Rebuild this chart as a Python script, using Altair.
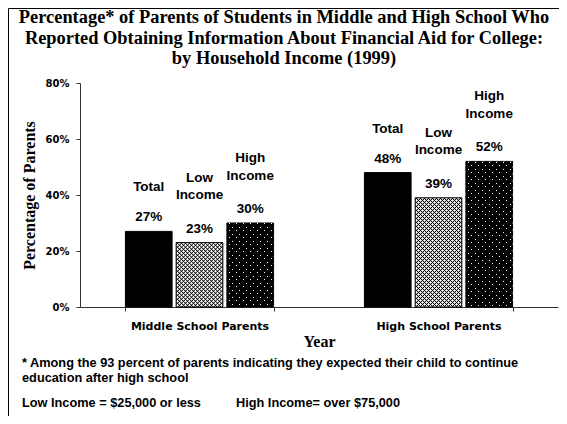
import altair as alt
import pandas as pd

# ---------------- data ----------------
groups = ["Middle School Parents", "High School Parents"]
series = ["Total", "Low Income", "High Income"]
series_labels = ["Total", "Low\nIncome", "High\nIncome"]
middle_school_values = [27, 23, 30]
high_school_values = [48, 39, 52]
y_ticks = [0, 20, 40, 60, 80]

title_lines = [
    "Percentage* of Parents of Students in Middle and High School Who",
    "Reported Obtaining Information About Financial Aid for College:",
    "by Household Income (1999)",
]
x_title = "Year"
y_title = "Percentage of Parents"
footnote_1 = ["* Among the 93 percent of parents indicating they expected their child to continue",
              "education after high school"]
footnote_low = "Low Income = $25,000 or less"
footnote_high = "High Income= over $75,000"

rows = []
for g, vals in zip(groups, [middle_school_values, high_school_values]):
    for s, lab, v in zip(series, series_labels, vals):
        rows.append({"group": g, "series": s, "label": lab, "value": v, "pct": f"{v}%"})
df = pd.DataFrame(rows)
one = pd.DataFrame({"k": [0]})

# ---------------- layout ----------------
W, H = 478, 224
PAD = {"left": 72, "top": 75, "right": 1, "bottom": 109}
Y_MAX = 80
P_IN, P_OUT = 0.38, 0.19
P_OFF = 0.08
SANS = "Liberation Sans"
SERIF = "Liberation Serif"

# bar pixel size (used only to style the fill patterns)
step = W / (len(groups) - P_IN + 2 * P_OUT)
band = step * (1 - P_IN)
bar_w = band / (len(series) - P_OFF) * (1 - P_OFF)

x_enc = alt.X(
    "group:N", title=x_title,
    scale=alt.Scale(domain=groups, paddingInner=P_IN, paddingOuter=P_OUT),
    axis=alt.Axis(labelAngle=0, labelFont="DejaVu Sans", labelFontSize=11, labelFontWeight="bold",
                  labelColor="black", tickBand="extent", tickSize=4, tickColor="#333",
                  domainColor="#333", labelPadding=9, titleFont=SERIF, titleFontSize=16,
                  titleFontWeight="bold", titleColor="black", titlePadding=2, grid=False),
)
xo_enc = alt.XOffset("series:N", scale=alt.Scale(domain=series, paddingInner=P_OFF, paddingOuter=0))
y_enc = alt.Y(
    "value:Q", title=y_title,
    scale=alt.Scale(domain=[0, Y_MAX], nice=False),
    axis=alt.Axis(values=y_ticks, labelExpr="datum.value + '%'", labelFont="DejaVu Sans",
                  labelFontSize=10, labelFontWeight="bold", labelColor="black", tickSize=4,
                  tickColor="#333", domainColor="#333", labelPadding=7, titleFont=SERIF,
                  titleFontSize=16, titleFontWeight="bold", titleColor="black", titlePadding=8,
                  grid=False),
)

base = alt.Chart(df)

bars = base.mark_bar(stroke="black", strokeWidth=1).encode(
    x=x_enc, xOffset=xo_enc, y=y_enc,
    fill=alt.Fill("series:N", scale=alt.Scale(domain=series, range=["#000000", "#ffffff", "#000000"]),
                  legend=None),
)

CLEAR = "rgba(0,0,0,0)"


def stripes(w, h, direction, period, thick, color, inverse=False, soft=False, start=2.0):
    """45-degree stripe fill for a bar of w x h pixels."""
    L = w + h
    k = (w + h) / (w * w + h * h)
    a, b = k * w, k * h
    if direction == 1:
        x1, y1, x2, y2 = 0, 0, a, b
    else:
        x1, y1, x2, y2 = 1, 0, 1 - a, b
    bg, fg = (color, CLEAR) if inverse else (CLEAR, color)
    stops = [alt.GradientStop(offset=0, color=bg)]
    c = start
    while c + thick / 2 < L:
        lo, mid, hi = (c - thick / 2) / L, c / L, (c + thick / 2) / L
        if soft:
            stops += [alt.GradientStop(offset=lo, color=bg), alt.GradientStop(offset=mid, color=fg),
                      alt.GradientStop(offset=hi, color=bg)]
        else:
            stops += [alt.GradientStop(offset=lo, color=bg), alt.GradientStop(offset=lo, color=fg),
                      alt.GradientStop(offset=hi, color=fg), alt.GradientStop(offset=hi, color=bg)]
        c += period
    stops.append(alt.GradientStop(offset=1, color=bg))
    return alt.LinearGradient(gradient="linear", stops=stops, x1=x1, y1=y1, x2=x2, y2=y2)


pattern_layers = []
for g, vals in zip(groups, [middle_school_values, high_school_values]):
    # Low income: cross-hatch
    h_low = vals[series.index("Low Income")] / Y_MAX * H
    for d in (1, 2):
        pattern_layers.append(
            base.transform_filter((alt.datum.series == "Low Income") & (alt.datum.group == g))
            .mark_bar(fill=stripes(bar_w, h_low, d, 4.0, 2.2, "#000000", soft=True), strokeWidth=0)
            .encode(x=x_enc, xOffset=xo_enc, y=y_enc)
        )
    # High income: black with white dots
    h_high = vals[series.index("High Income")] / Y_MAX * H
    pattern_layers.append(
        base.transform_filter((alt.datum.series == "High Income") & (alt.datum.group == g))
        .mark_bar(fill=stripes(bar_w, h_high, 1, 7.0, 1.6, "#ffffff", start=3.0), strokeWidth=0)
        .encode(x=x_enc, xOffset=xo_enc, y=y_enc)
    )
    pattern_layers.append(
        base.transform_filter((alt.datum.series == "High Income") & (alt.datum.group == g))
        .mark_bar(fill=stripes(bar_w, h_high, 2, 7.0, 1.6, "#000000", inverse=True, start=3.0),
                  strokeWidth=0)
        .encode(x=x_enc, xOffset=xo_enc, y=y_enc)
    )

pct_text = base.mark_text(font=SANS, fontSize=13.5, fontWeight="bold", baseline="middle",
                          dy=-14, color="black").encode(x=x_enc, xOffset=xo_enc, y=y_enc, text="pct:N")
label_single = base.transform_filter(alt.datum.series == "Total").mark_text(
    font=SANS, fontSize=13.5, fontWeight="bold", baseline="middle", dy=-44, color="black").encode(
    x=x_enc, xOffset=xo_enc, y=y_enc, text="label:N")
label_multi = base.transform_filter(alt.datum.series != "Total").mark_text(
    font=SANS, fontSize=13.5, fontWeight="bold", baseline="middle", lineBreak="\n", lineHeight=17.5,
    dy=-65, color="black").encode(x=x_enc, xOffset=xo_enc, y=y_enc, text="label:N")

# outer frame: top and left edges only (the picture is cropped on the other two sides)
fx = -PAD["left"] + 0.5
fy = -PAD["top"] + 0.5
frame_top = alt.Chart(one).mark_rule(color="black", strokeWidth=1).encode(
    x=alt.value(fx), x2=alt.value(W + PAD["right"]), y=alt.value(fy))
frame_left = alt.Chart(one).mark_rule(color="black", strokeWidth=1).encode(
    x=alt.value(fx), y=alt.value(fy), y2=alt.value(H + PAD["bottom"]))

title = alt.Chart(one).mark_text(font=SERIF, fontSize=18.4, fontWeight="bold", align="center",
                                 baseline="middle", lineBreak="\n", lineHeight=20.5, color="black").encode(
    x=alt.value(204), y=alt.value(-66), text=alt.value("\n".join(title_lines)))

foot1 = alt.Chart(one).mark_text(font=SANS, fontSize=12.75, fontWeight="bold", align="left",
                                 baseline="middle", lineBreak="\n", lineHeight=14.5, color="black").encode(
    x=alt.value(-58), y=alt.value(280), text=alt.value("\n".join(footnote_1)))
foot2 = alt.Chart(one).mark_text(font=SANS, fontSize=12.75, fontWeight="bold", align="left",
                                 baseline="middle", color="black").encode(
    x=alt.value(-58), y=alt.value(320), text=alt.value(footnote_low))
foot3 = alt.Chart(one).mark_text(font=SANS, fontSize=12.75, fontWeight="bold", align="left",
                                 baseline="middle", color="black").encode(
    x=alt.value(156), y=alt.value(320), text=alt.value(footnote_high))

chart = alt.layer(frame_top, frame_left, bars, *pattern_layers, pct_text, label_single, label_multi,
                  title, foot1, foot2, foot3).properties(
    width=W, height=H,
    autosize=alt.AutoSizeParams(type="none"),
    padding=PAD,
    background="white",
).configure_view(strokeWidth=0)

chart.save("out.html", embed_options={"renderer": "svg", "actions": False})
